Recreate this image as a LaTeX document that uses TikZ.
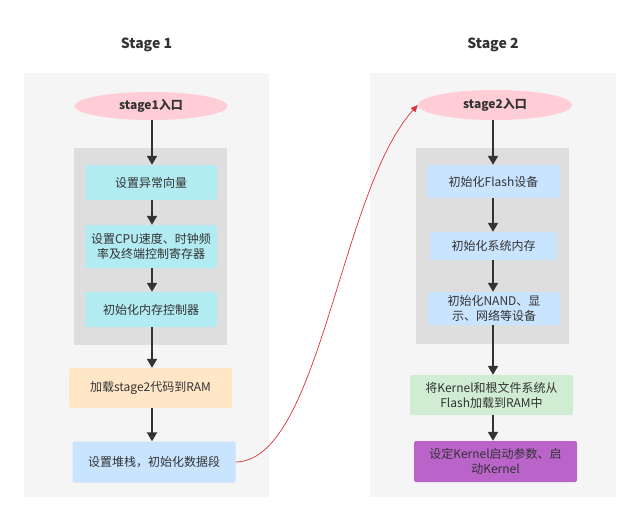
\documentclass[tikz,border=0pt]{standalone}
\usepackage{fontspec}
\setmainfont{Noto Sans CJK SC}
\usetikzlibrary{arrows.meta,shapes.geometric}
\definecolor{panelbg}{HTML}{F5F5F5}
\definecolor{innerbg}{HTML}{DEDEDE}
\definecolor{pinkc}{HTML}{FFCDD6}
\definecolor{cyanc}{HTML}{B2EBF2}
\definecolor{orangec}{HTML}{FFE6C7}
\definecolor{bluec}{HTML}{C9E4FF}
\definecolor{greenc}{HTML}{D0ECD2}
\definecolor{purplec}{HTML}{BA64CA}
\definecolor{txt}{HTML}{333333}
\definecolor{redc}{HTML}{E0303A}
\tikzset{
  panel/.style={fill=panelbg, draw=none},
  inner/.style={fill=innerbg, draw=none},
  entry/.style={ellipse, fill=pinkc, draw=none, text=txt, font=\bfseries\fontsize{12}{14}\selectfont, inner sep=0pt},
  box/.style={rectangle, rounded corners=2pt, draw=none, text=txt, align=center, inner sep=0pt, font=\fontsize{12}{15}\selectfont},
  title/.style={text=txt, font=\bfseries\fontsize{14}{16}\selectfont},
  flow/.style={draw=txt, line width=1.8pt, -{Triangle[length=9pt,width=10pt]}},
  jump/.style={draw=redc, line width=0.7pt, -{Triangle[length=7pt,width=6pt]}}
}
\begin{document}
\begin{tikzpicture}[x=1pt,y=-1pt]
\useasboundingbox[fill=white] (0,0) rectangle (640,522);
% panels
\fill[panel] (24,73) rectangle (269,497);
\fill[panel] (370,73) rectangle (616,497);
\fill[inner] (74,148) rectangle (227,345);
\fill[inner] (416,148) rectangle (569,344);
% titles
\node[title] (t1) at (146.5,45) {Stage 1};
\node[title] (t2) at (493,45) {Stage 2};
% stage 1
\node[entry, minimum width=153pt, minimum height=28pt] (e1) at (151,106) {stage1入口};
\node[box, fill=cyanc, minimum width=132pt, minimum height=35pt] (a1) at (151,182.5) {设置异常向量};
\node[box, fill=cyanc, minimum width=132pt, minimum height=43pt] (a2) at (151,246.5) {设置CPU速度、时钟频\\率及终端控制寄存器};
\node[box, fill=cyanc, minimum width=132pt, minimum height=35pt] (a3) at (151,309.5) {初始化内存控制器};
\node[box, fill=orangec, minimum width=163pt, minimum height=40pt] (a4) at (150.5,388) {加载stage2代码到RAM};
\node[box, fill=bluec, minimum width=163pt, minimum height=41pt] (a5) at (154,462) {设置堆栈，初始化数据段};
% stage 2
\node[entry, minimum width=154pt, minimum height=30pt] (e2) at (495,105) {stage2入口};
\node[box, fill=bluec, minimum width=133pt, minimum height=33pt] (b1) at (493.5,181.5) {初始化Flash设备};
\node[box, fill=bluec, minimum width=127pt, minimum height=28pt] (b2) at (493.5,246) {初始化系统内存};
\node[box, fill=bluec, minimum width=132pt, minimum height=33pt] (b3) at (494,308.5) {初始化NAND、显\\示、网络等设备};
\node[box, fill=greenc, minimum width=163pt, minimum height=40pt] (b4) at (491.5,395) {将Kernel和根文件系统从\\Flash加载到RAM中};
\node[box, fill=purplec, minimum width=163pt, minimum height=41pt] (b5) at (495.5,461.5) {设定Kernel启动参数、启\\动Kernel};
% arrows stage 1
\draw[flow] (e1.south -| 152,0) -- (a1.north -| 152,0);
\draw[flow] (a1.south -| 152,0) -- (a2.north -| 152,0);
\draw[flow] (a2.south -| 152,0) -- (a3.north -| 152,0);
\draw[flow] (a3.south -| 152,0) -- (a4.north -| 152,0);
\draw[flow] (a4.south -| 152,0) -- (a5.north -| 152,0);
% arrows stage 2
\draw[flow] (e2.south -| 493,0) -- (b1.north -| 493,0);
\draw[flow] (b1.south -| 493,0) -- (b2.north -| 493,0);
\draw[flow] (b2.south -| 493,0) -- (b3.north -| 493,0);
\draw[flow] (b3.south -| 493,0) -- (b4.north -| 493,0);
\draw[flow] (b4.south -| 493,0) -- (b5.north -| 493,0);
% jump
\draw[jump] (a5.east) .. controls (320,461) and (340,190) .. (e2.west);
\end{tikzpicture}
\end{document}
